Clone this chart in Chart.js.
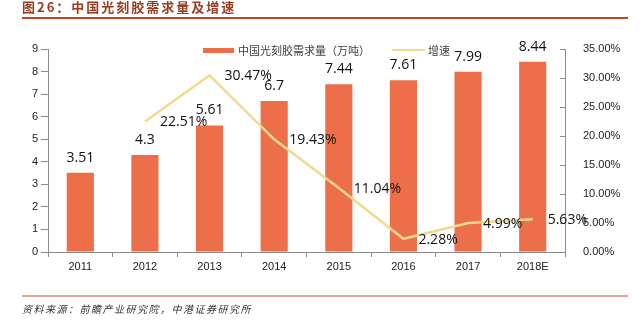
<!DOCTYPE html>
<html>
<head>
<meta charset="utf-8">
<script src="https://cdn.jsdelivr.net/npm/chart.js@4/dist/chart.umd.min.js"></script>
<style>
  html, body { margin: 0; padding: 0; background: #fff; }
  #wrap { position: relative; width: 639px; height: 322px; }
</style>
</head>
<body>
<div id="wrap"><canvas id="demandChart" width="639" height="322"></canvas></div>
<script>
const years = ["2011", "2012", "2013", "2014", "2015", "2016", "2017", "2018E"];
const demand = [3.51, 4.3, 5.61, 6.7, 7.44, 7.61, 7.99, 8.44];
const growth = [null, 22.51, 30.47, 19.43, 11.04, 2.28, 4.99, 5.63];
const leftTicks = [0, 1, 2, 3, 4, 5, 6, 7, 8, 9];
const rightTicks = [0, 5, 10, 15, 20, 25, 30, 35];

const barColor = "#EC6F49";
const lineColor = "#F3D98C";
const axisColor = "#8c8c8c";

// title, footer, legend, data labels and inner ticks on right axis
const decorPlugin = {
    id: "decor",
    afterDraw(chart) {
        const ctx = chart.ctx;
        const area = chart.chartArea;
        ctx.save();

        // title
        ctx.fillStyle = "#9A3B22";
        ctx.font = "bold 13px 'Noto Sans CJK SC'";
        ctx.textBaseline = "middle";
        ctx.textAlign = "left";
        ctx.letterSpacing = "2px";
        ctx.fillText("图26：中国光刻胶需求量及增速", 22, 7);
        ctx.fillStyle = "#C0461E";
        ctx.fillRect(22, 17, 606, 2);

        // footer
        ctx.fillStyle = "#E2A78E";
        ctx.fillRect(22, 295, 606, 2);
        ctx.fillStyle = "#333";
        ctx.font = "italic 10px 'Noto Sans CJK SC'";
        ctx.letterSpacing = "1.5px";
        ctx.fillText("资料来源：前瞻产业研究院，中港证券研究所", 22, 309);
        ctx.letterSpacing = "0px";

        // legend
        ctx.fillStyle = barColor;
        ctx.fillRect(203, 48, 31, 5);
        ctx.fillStyle = "#404040";
        ctx.font = "11px 'Noto Sans CJK SC'";
        ctx.fillText("中国光刻胶需求量（万吨）", 238, 51);
        ctx.fillStyle = lineColor;
        ctx.fillRect(392, 49, 33, 2);
        ctx.fillStyle = "#404040";
        ctx.fillText("增速", 428, 51);

        // right axis ticks (inside)
        const y1 = chart.scales.y1;
        ctx.strokeStyle = axisColor;
        ctx.lineWidth = 1;
        rightTicks.forEach(v => {
            const py = Math.round(y1.getPixelForValue(v)) + 0.5;
            ctx.beginPath();
            ctx.moveTo(area.right - 5, py);
            ctx.lineTo(area.right, py);
            ctx.stroke();
        });

        // bar labels
        ctx.fillStyle = "#111";
        ctx.font = "14px 'Open Sans'";
        ctx.textAlign = "center";
        chart.getDatasetMeta(0).data.forEach((bar, i) => {
            ctx.fillText(String(demand[i]), bar.x, bar.y - 15);
        });

        // line labels
        ctx.textAlign = "left";
        chart.getDatasetMeta(1).data.forEach((pt, i) => {
            if (growth[i] === null) return;
            ctx.fillText(growth[i].toFixed(2) + "%", pt.x + 15, pt.y + 1);
        });

        ctx.restore();
    }
};

new Chart(document.getElementById("demandChart"), {
    type: "bar",
    data: {
        labels: years,
        datasets: [
            {
                label: "中国光刻胶需求量（万吨）",
                data: demand,
                backgroundColor: barColor,
                barPercentage: 0.42,
                categoryPercentage: 1,
                yAxisID: "y",
                order: 2
            },
            {
                type: "line",
                label: "增速",
                data: growth,
                borderColor: lineColor,
                borderWidth: 2.5,
                pointRadius: 0,
                tension: 0,
                yAxisID: "y1",
                order: 1
            }
        ]
    },
    options: {
        responsive: false,
        animation: false,
        layout: { padding: { top: 49, bottom: 48, left: 0, right: 0 } },
        plugins: {
            legend: { display: false },
            tooltip: { enabled: false }
        },
        scales: {
            x: {
                grid: { display: true, drawOnChartArea: false, offset: true, tickLength: 5, color: axisColor },
                border: { display: true, color: axisColor },
                ticks: { color: "#222", font: { family: "Liberation Sans", size: 11 }, padding: 3 },
                afterFit(scale) { scale.height = 22; }
            },
            y: {
                position: "left",
                min: 0,
                max: 9,
                afterBuildTicks(scale) { scale.ticks = leftTicks.map(v => ({ value: v })); },
                grid: { display: true, drawOnChartArea: false, tickLength: 7, color: axisColor },
                border: { display: true, color: axisColor },
                ticks: { color: "#222", font: { family: "Liberation Sans", size: 11 }, padding: 3 },
                afterFit(scale) { scale.width = 48; }
            },
            y1: {
                position: "right",
                min: 0,
                max: 35,
                afterBuildTicks(scale) { scale.ticks = rightTicks.map(v => ({ value: v })); },
                grid: { display: false },
                border: { display: true, color: axisColor },
                ticks: {
                    color: "#222",
                    font: { family: "Liberation Sans", size: 11 },
                    padding: 10,
                    callback: v => v.toFixed(2) + "%"
                },
                afterFit(scale) { scale.width = 74; }
            }
        }
    },
    plugins: [decorPlugin]
});
</script>
</body>
</html>
